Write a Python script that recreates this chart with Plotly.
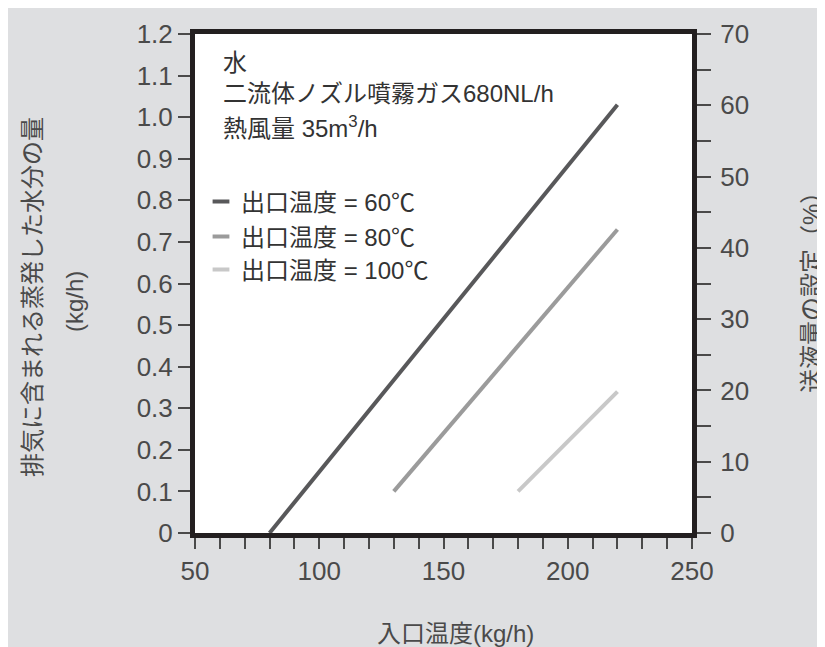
import plotly.graph_objects as go

# ---- data ----
series_names = ["出口温度 = 60℃", "出口温度 = 80℃", "出口温度 = 100℃"]
x_60 = [80, 220]
y_60 = [0.0, 1.03]
x_80 = [130, 220]
y_80 = [0.10, 0.73]
x_100 = [180, 220]
y_100 = [0.10, 0.34]
line_colors = ["#58585a", "#9b9b9b", "#c8c8c8"]

x_ticks = [50, 100, 150, 200, 250]
y_ticks = [0, 0.1, 0.2, 0.3, 0.4, 0.5, 0.6, 0.7, 0.8, 0.9, 1.0, 1.1, 1.2]
y_tick_labels = ["0", "0.1", "0.2", "0.3", "0.4", "0.5", "0.6", "0.7", "0.8", "0.9", "1.0", "1.1", "1.2"]
y2_ticks = [0, 10, 20, 30, 40, 50, 60, 70]

note_lines = ["水", "二流体ノズル噴霧ガス680NL/h", "熱風量 35m<sup>3</sup>/h"]

# ---- layout geometry (page pixels; the page body adds an 8px offset) ----
OFF = 8
WIDTH, HEIGHT = 825, 647
L, R, T, B = 195 - OFF, 692 - OFF, 34 - OFF, 533 - OFF
PW, PH = R - L, B - T


def px(x):
    return (x - OFF - L) / PW


def py(y):
    return (B - (y - OFF)) / PH


FONT = "Liberation Sans, Arial, Noto Sans CJK JP, sans-serif"
BG = "#dedfe1"
AX = "#231f20"
TICKC = "#4a4a4a"
TXT = "#4a4a4a"

fig = go.Figure()

data = [(x_60, y_60), (x_80, y_80), (x_100, y_100)]
for (xs, ys), name, c in zip(data, series_names, line_colors):
    fig.add_trace(go.Scatter(x=xs, y=ys, mode="lines", name=name,
                             line=dict(color=c, width=4), showlegend=False,
                             hoverinfo="skip"))

# legend proxies (short dash symbols)
legend_ids = ["legend", "legend2", "legend3"]
for name, c, lid in zip(series_names, line_colors, legend_ids):
    fig.add_trace(go.Scatter(x=[None], y=[None], mode="markers", name=name,
                             marker=dict(symbol="line-ew", size=12,
                                         line=dict(width=4, color=c)),
                             legend=lid, showlegend=True))

# dummy trace for right axis
fig.add_trace(go.Scatter(x=[None], y=[None], yaxis="y2", showlegend=False))

legend_rows = [202, 237, 270]
legend_common = dict(xanchor="left", yanchor="middle", bgcolor="rgba(0,0,0,0)",
                     font=dict(family=FONT, size=24, color="#333333"),
                     borderwidth=0, itemclick=False, itemdoubleclick=False)
leg_layout = {}
for lid, row in zip(legend_ids, legend_rows):
    leg_layout[lid] = dict(x=px(201), y=py(row), **legend_common)

annotations = []
for txt, row in zip(note_lines, [63, 93, 127]):
    annotations.append(dict(text=txt, x=px(221), y=py(row), xref="paper", yref="paper",
                            xanchor="left", yanchor="middle", showarrow=False,
                            font=dict(family=FONT, size=24, color="#333333")))

# axis titles
annotations.append(dict(text="排気に含まれる蒸発した水分の量", x=px(32), y=py(297),
                        xref="paper", yref="paper", textangle=-90, showarrow=False,
                        xanchor="center", yanchor="middle",
                        font=dict(family=FONT, size=24, color=TXT)))
annotations.append(dict(text="(kg/h)", x=px(74), y=py(302),
                        xref="paper", yref="paper", textangle=-90, showarrow=False,
                        xanchor="center", yanchor="middle",
                        font=dict(family=FONT, size=24, color=TXT)))
annotations.append(dict(text="送液量の設定（%）", x=px(811), y=py(287),
                        xref="paper", yref="paper", textangle=-90, showarrow=False,
                        xanchor="center", yanchor="middle",
                        font=dict(family=FONT, size=24, color=TXT)))
annotations.append(dict(text="入口温度(kg/h)", x=px(455), y=py(633),
                        xref="paper", yref="paper", showarrow=False,
                        xanchor="center", yanchor="middle",
                        font=dict(family=FONT, size=24, color=TXT)))

tickfont = dict(family=FONT, size=26, color=TXT)

fig.update_layout(
    width=WIDTH, height=HEIGHT,
    margin=dict(l=L, r=WIDTH - R, t=T, b=HEIGHT - B, pad=0),
    paper_bgcolor=BG, plot_bgcolor="white",
    annotations=annotations,
    xaxis=dict(range=[50, 250], tickvals=x_ticks, ticks="outside", ticklen=11,
               tickwidth=1.5, tickcolor=TICKC, tickfont=tickfont,
               minor=dict(dtick=10, tick0=50, ticks="outside", ticklen=11, tickwidth=1.5,
                          tickcolor=TICKC, showgrid=False),
               showgrid=False, zeroline=False, showline=True, linewidth=5,
               linecolor=AX, mirror=True),
    yaxis=dict(range=[0, 1.2], tickvals=y_ticks, ticktext=y_tick_labels,
               ticks="outside", ticklen=12, tickwidth=1.5, tickcolor=TICKC,
               tickfont=tickfont, showgrid=False, zeroline=False, showline=True,
               linewidth=5, linecolor=AX, mirror=True),
    yaxis2=dict(range=[0, 70], tickvals=y2_ticks, overlaying="y", side="right",
                ticks="outside", ticklen=14, tickwidth=1.5, tickcolor=TICKC,
                tickfont=tickfont, ticklabelstandoff=4,
                minor=dict(dtick=5, tick0=0, ticks="outside", ticklen=14, tickwidth=1.5,
                           tickcolor=TICKC, showgrid=False),
                showgrid=False, zeroline=False, showline=True, linewidth=5,
                linecolor=AX),
    **leg_layout,
)

fig.write_html("out.html")
